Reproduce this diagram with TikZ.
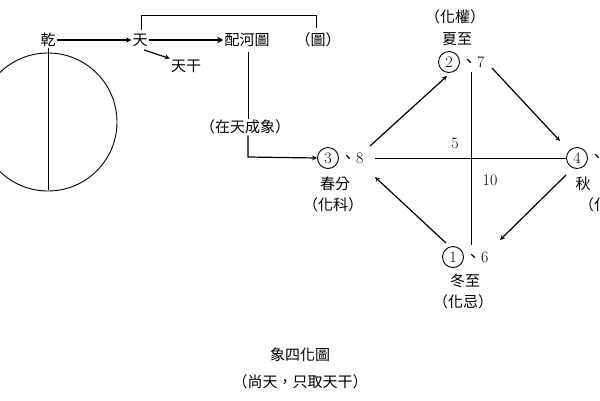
\documentclass[tikz,border=0pt]{standalone}
\usepackage{fontspec}
\newfontfamily\cjk{Noto Sans CJK TC}
\begin{document}
\begin{tikzpicture}[x=1pt,y=-1pt,font=\cjk\fontsize{15}{16}\selectfont,
  lab/.style={inner sep=1pt},
  num/.style={circle,draw,line width=0.9pt,inner sep=1pt,minimum size=21pt,font=\rmfamily\fontsize{16}{16}\selectfont},
  arr/.style={->,>=stealth,line width=1.2pt},
  ln/.style={line width=0.9pt}]
\useasboundingbox (0,0) rectangle (600,400);
\clip (0,0) rectangle (600,400);
\draw[ln] (48,122) circle (69);
\node[lab] (qian) at (48,40) {乾};
\draw[ln] (qian.south) -- (48,190);
\node[lab] (tian) at (140,40) {天};
\node[lab] (tg) at (186,66) {天干};
\node[lab] (phe) at (247,40) {配河圖};
\node[lab] (tu) at (318,40) {（圖）};
\draw[ln] (141,30) -- (141,15) -- (316,15) -- (316,28);
\draw[arr] (qian) -- (tian);
\draw[arr,line width=1.8pt] (tian) -- (phe);
\draw[arr] (144,50) -- (tg.north west);
\node[lab] (zt) at (245,127) {（在天成象）};
\node[num] (n3) at (328,158) {3};
\node[lab,anchor=west] (n3b) at (n3.east) {\rmfamily\fontsize{16}{16}\selectfont\cjk 、\rmfamily 8};
\draw[ln] (248,52) -- (zt.north -| 248,0);
\draw[arr] (zt.south -| 248,0) -- (248,157) -- (n3.west);
\node[lab] at (335,184) {春分};
\node[lab] at (333,205) {（化科）};
\node[num] (n2) at (449,62) {2};
\node[lab,anchor=west] (n2b) at (n2.east) {\fontsize{16}{16}\selectfont 、\rmfamily 7};
\node[lab] at (457,39) {夏至};
\node[lab] at (455,17) {（化權）};
\node[num] (n4) at (577,158) {4};
\node[lab,anchor=west] at (n4.east) {\fontsize{16}{16}\selectfont 、};
\node[lab] at (583,184) {秋};
\node[lab] at (594,205) {（化};
\node[num] (n1) at (453,257) {1};
\node[lab,anchor=west] (n1b) at (n1.east) {\fontsize{16}{16}\selectfont 、\rmfamily 6};
\node[lab] at (465,281) {冬至};
\node[lab] at (463,302) {（化忌）};
\coordinate (hL) at (375,158);
\coordinate (hR) at (n4.west);
\draw[ln] (hL) -- (hR);
\draw[ln] (471,72) -- (471,245);
\node[font=\rmfamily\fontsize{16}{16}\selectfont] at (455,143) {5};
\node[font=\rmfamily\fontsize{16}{16}\selectfont] at (490,180) {10};
\draw[arr] (370,146) -- (447,76);
\draw[arr] (492,68) -- (560,141);
\draw[arr] (566,175) -- (500,240);
\draw[arr] (446,243) -- (375,177);
\node[lab] at (300,355) {象四化圖};
\node[lab] at (300,382) {（尚天，只取天干）};
\end{tikzpicture}
\end{document}
